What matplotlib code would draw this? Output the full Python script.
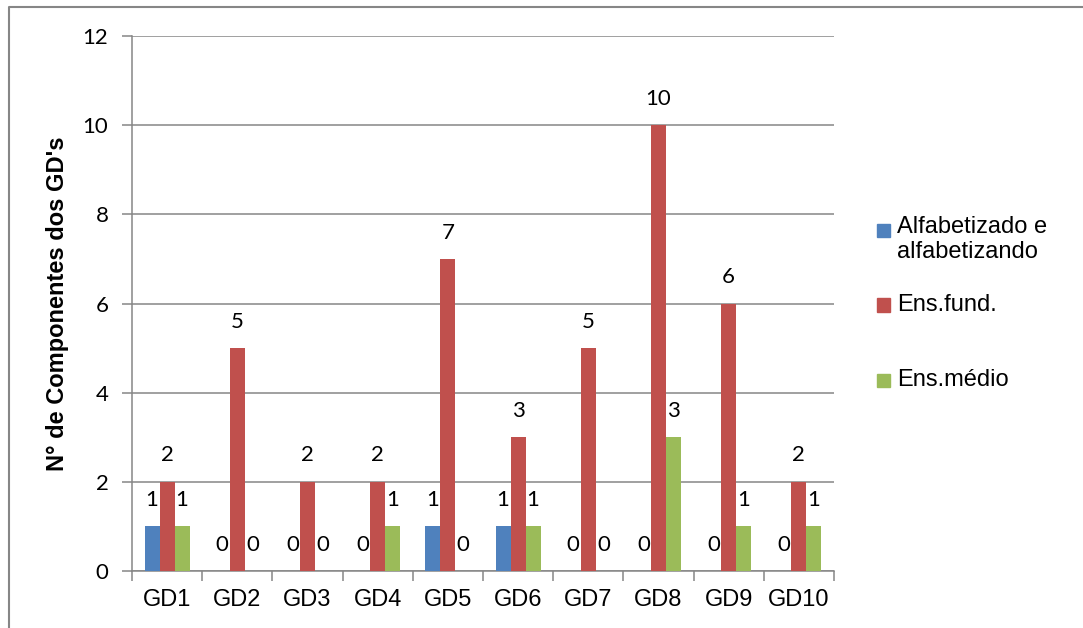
import numpy as np
import matplotlib
matplotlib.use('Agg')
import matplotlib.pyplot as plt
from matplotlib.patches import Rectangle
from matplotlib.lines import Line2D

# Chart data
categories = ['GD1', 'GD2', 'GD3', 'GD4', 'GD5', 'GD6', 'GD7', 'GD8', 'GD9', 'GD10']
alfabetizado = [1, 0, 0, 0, 1, 1, 0, 0, 0, 0]
ens_fund = [2, 5, 2, 2, 7, 3, 5, 10, 6, 2]
ens_medio = [1, 0, 0, 1, 0, 1, 0, 3, 1, 1]
series_names = ['Alfabetizado e\nalfabetizando', 'Ens.fund.', 'Ens.médio']
colors = ['#4F81BD', '#C0504D', '#9BBB59']
yticks = [0, 2, 4, 6, 8, 10, 12]

arial = 'Liberation Sans'
calib = 'Lato'
W, H = 1083, 628

fig = plt.figure(figsize=(W / 100, H / 100), dpi=100)
ax = fig.add_axes([132 / W, 1 - 571 / H, 702 / W, 535 / H])

# Outer chart border (only top and left edges are visible in the crop)
fig.add_artist(Line2D([8.5 / W, 8.5 / W, 1], [0, 1 - 7 / H, 1 - 7 / H],
                      transform=fig.transFigure, color='#868686', linewidth=1.5))

x = np.arange(len(categories)) + 0.5
w = 0.214
all_series = [alfabetizado, ens_fund, ens_medio]
for i, vals in enumerate(all_series):
    pos = x + (i - 1) * w
    ax.bar(pos, vals, width=w, color=colors[i], zorder=3)
    for px, v in zip(pos, vals):
        ax.annotate(str(v), (px, v), xytext=(0, 19), textcoords='offset points',
                    ha='center', va='center', fontsize=16, family=calib)

ax.set_xlim(0, len(categories))
ax.set_ylim(0, 12)
ax.set_yticks(yticks)
ax.set_yticklabels([str(t) for t in yticks], family=calib, fontsize=16)
ax.yaxis.grid(True, color='#868686', linewidth=1.1, zorder=0)
ax.set_axisbelow(True)

# category boundaries as tick marks, labels at the centres
ax.set_xticks(np.arange(len(categories) + 1))
ax.set_xticklabels([])
ax.set_xticks(x, minor=True)
ax.set_xticklabels(categories, minor=True, family=arial, fontsize=17)
ax.tick_params(axis='x', which='minor', length=0, pad=13)
ax.tick_params(axis='x', which='major', length=7, color='#868686', width=1.1)
ax.tick_params(axis='y', length=7, color='#868686', width=1.1, pad=10)

for s in ['top', 'right']:
    ax.spines[s].set_visible(False)
for s in ['left', 'bottom']:
    ax.spines[s].set_color('#868686')
    ax.spines[s].set_linewidth(1.1)

ax.set_ylabel("N° de Componentes dos GD's", family=arial, fontsize=17,
              fontweight='bold', labelpad=10)

# Legend drawn by hand to match the uneven spacing
leg_y = [230, 305, 380]
for i, name in enumerate(series_names):
    yc = 1 - leg_y[i] / H
    fig.add_artist(Rectangle((877 / W, yc - 6.5 / H), 13 / W, 13 / H,
                             transform=fig.transFigure, color=colors[i]))
    if '\n' in name:
        fig.text(897 / W, yc + 14 / H, name, family=arial, fontsize=17,
                 va='top', ha='left', linespacing=1.2)
    else:
        fig.text(897 / W, yc, name, family=arial, fontsize=17,
                 va='center', ha='left')

fig.savefig('out.png', dpi=100)
